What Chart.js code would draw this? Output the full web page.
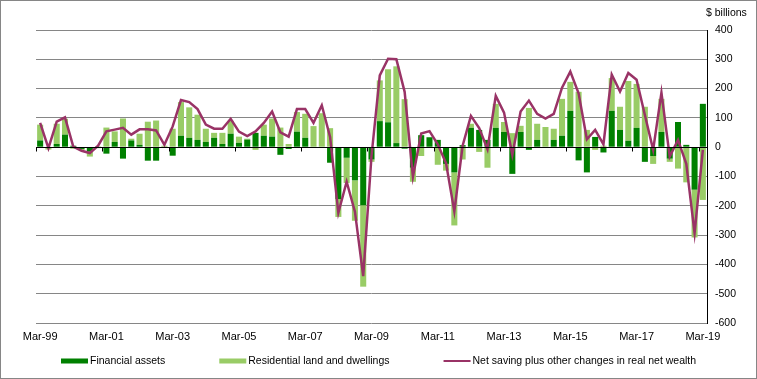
<!DOCTYPE html>
<html>
<head>
<meta charset="utf-8">
<script src="https://cdn.jsdelivr.net/npm/chart.js@4/dist/chart.umd.min.js"></script>
<style>
html,body{margin:0;padding:0;background:#fff;}
canvas{display:block;}
</style>
</head>
<body>
<canvas id="c" width="757" height="379"></canvas>
<script>
const quarters = [
 'Mar-99','Jun-99','Sep-99','Dec-99',
 'Mar-00','Jun-00','Sep-00','Dec-00',
 'Mar-01','Jun-01','Sep-01','Dec-01',
 'Mar-02','Jun-02','Sep-02','Dec-02',
 'Mar-03','Jun-03','Sep-03','Dec-03',
 'Mar-04','Jun-04','Sep-04','Dec-04',
 'Mar-05','Jun-05','Sep-05','Dec-05',
 'Mar-06','Jun-06','Sep-06','Dec-06',
 'Mar-07','Jun-07','Sep-07','Dec-07',
 'Mar-08','Jun-08','Sep-08','Dec-08',
 'Mar-09','Jun-09','Sep-09','Dec-09',
 'Mar-10','Jun-10','Sep-10','Dec-10',
 'Mar-11','Jun-11','Sep-11','Dec-11',
 'Mar-12','Jun-12','Sep-12','Dec-12',
 'Mar-13','Jun-13','Sep-13','Dec-13',
 'Mar-14','Jun-14','Sep-14','Dec-14',
 'Mar-15','Jun-15','Sep-15','Dec-15',
 'Mar-16','Jun-16','Sep-16','Dec-16',
 'Mar-17','Jun-17','Sep-17','Dec-17',
 'Mar-18','Jun-18','Sep-18','Dec-18',
 'Mar-19'
];

const financialAssets = [
 23, 0, 11, 43,
 5, -6, -15, -3,
 -22, 18, -39, 23,
 8, -46, -46, 2,
 -29, 39, 32, 25,
 18, 32, 11, 46,
 15, 26, 49, 39,
 36, -26, -6, 53,
 32, 0, 0, -53,
 -177, -36, -113, -198,
 -42, 89, 85, 14,
 -5, -70, 41, 34,
 25, -57, -86, 7,
 66, 59, 25, 66,
 52, -91, 52, -9,
 25, 0, 25, 39,
 124, -45, -86, 35,
 -18, 124, 59, 22,
 66, -50, -30, 52,
 -39, 86, 8, -145,
 148
];

const residentialLand = [
 54, -8, 69, 54,
 -5, -4, -17, 3,
 67, 36, 98, 6,
 38, 87, 91, 3,
 63, 115, 104, 86,
 45, 17, 38, 44,
 21, 3, -9, 38,
 62, 67, 11, 67,
 82, 72, 116, 65,
 -61, -86, -138, -278,
 -8, 139, 181, 262,
 164, -48, -30, 0,
 -60, -23, -181, -42,
 14, -16, -70, 82,
 34, 48, 21, 134,
 55, 69, 38, 126,
 99, 189, 59, -9,
 5, 112, 79, 204,
 150, 138, -27, 113,
 -11, -73, -120, -163,
 -180
];

const netSavingWealth = [
 83, -3, 87, 102,
 2, -12, -20, 5,
 54, 60, 66, 43,
 61, 61, 57, 8,
 71, 161, 154, 130,
 77, 63, 63, 97,
 53, 38, 54, 83,
 122, 51, 36, 130,
 130, 83, 143, 35,
 -224, -118, -220, -440,
 -30, 245, 302, 300,
 189, -101, 47, 55,
 10, -55, -219, 5,
 107, 65, -7, 175,
 118, -26, 122, 159,
 114, 98, 114, 203,
 258, 184, 27, 59,
 10, 248, 190, 253,
 230, 110, -9, 186,
 -32, 25, -57, -293,
 -9
];

const seriesNames = [
 'Financial assets',
 'Residential land and dwellings',
 'Net saving plus other changes in real net wealth'
];
const unitLabel = '$ billions';
const yMin = -600, yMax = 400, yStep = 100;

const FONT = '"Liberation Sans", Arial, sans-serif';
const DARK = '#008000', LIGHT = '#99CC66', LINE = '#993366';

const framePlugin = {
  id: 'frame',
  beforeDraw(chart) {
    const ctx = chart.ctx;
    ctx.save();
    ctx.fillStyle = '#fff';
    ctx.fillRect(0, 0, chart.width, chart.height);
    ctx.restore();
  },
  afterDraw(chart) {
    const ctx = chart.ctx;
    ctx.save();
    ctx.strokeStyle = '#868686';
    ctx.lineWidth = 1;
    ctx.strokeRect(0.5, 0.5, chart.width - 1, chart.height - 1);
    ctx.fillStyle = '#000';
    ctx.font = '10.5px ' + FONT;
    ctx.textBaseline = 'middle';
    ctx.textAlign = 'left';
    ctx.fillText(unitLabel, chart.chartArea.right - 1, 13);
    // legend
    ctx.font = '10.5px ' + FONT;
    const boxW = 27, gapText = 2, gapItems = 54;
    const items = chart.data.datasets.map(ds => ({ds, w: boxW + gapText + ctx.measureText(ds.label).width}));
    const total = items.reduce((a, b) => a + b.w, 0) + gapItems * (items.length - 1);
    let x = Math.round((chart.width - total) / 2);
    const y = chart.height - 18;
    items.forEach(it => {
      if (it.ds.type === 'line') {
        ctx.strokeStyle = it.ds.borderColor;
        ctx.lineWidth = 2;
        ctx.beginPath();
        ctx.moveTo(x, y);
        ctx.lineTo(x + boxW, y);
        ctx.stroke();
      } else {
        ctx.fillStyle = it.ds.backgroundColor;
        ctx.fillRect(x, y - 2.5, boxW, 5);
      }
      ctx.fillStyle = '#000';
      ctx.fillText(it.ds.label, x + boxW + gapText, y + 0.5);
      x += it.w + gapItems;
    });
    ctx.restore();
  }
};

const zeroAxisPlugin = {
  id: 'zeroAxis',
  afterDatasetsDraw(chart) {
    const ctx = chart.ctx;
    const xs = chart.scales.x, ys = chart.scales.y;
    const y0 = Math.round(ys.getPixelForValue(0)) + 0.5;
    const half = (xs.getPixelForValue(1) - xs.getPixelForValue(0)) / 2;
    ctx.save();
    ctx.strokeStyle = '#000';
    ctx.lineWidth = 1;
    ctx.beginPath();
    ctx.moveTo(chart.chartArea.left, y0);
    ctx.lineTo(chart.chartArea.right, y0);
    for (let k = 0; k < quarters.length; k += 8) {
      const xp = Math.round(xs.getPixelForValue(k) - half) + 0.5;
      ctx.moveTo(xp, y0);
      ctx.lineTo(xp, y0 + 4);
    }
    ctx.stroke();
    ctx.restore();
  }
};

new Chart(document.getElementById('c'), {
  type: 'bar',
  data: {
    labels: quarters,
    datasets: [
      {label: seriesNames[0], data: financialAssets, backgroundColor: DARK, stack: 'w', order: 1,
       barPercentage: 0.73, categoryPercentage: 1},
      {label: seriesNames[1], data: residentialLand, backgroundColor: LIGHT, stack: 'w', order: 2,
       barPercentage: 0.73, categoryPercentage: 1},
      {type: 'line', label: seriesNames[2], data: netSavingWealth, borderColor: LINE, backgroundColor: LINE,
       borderWidth: 2.5, pointRadius: 0, tension: 0, stack: 'line', order: 0}
    ]
  },
  options: {
    responsive: false,
    animation: false,
    devicePixelRatio: 1,
    layout: {padding: {left: 36, top: 30, right: 0, bottom: 0}},
    scales: {
      x: {
        stacked: true,
        grid: {display: false, drawTicks: false},
        border: {display: false},
        ticks: {
          autoSkip: false, maxRotation: 0, minRotation: 0, color: '#000', padding: 7,
          font: {family: FONT, size: 11},
          callback: function(v, i) { return i % 8 === 0 ? this.getLabelForValue(v) : ''; }
        },
        afterFit(s) { s.height = 56; }
      },
      y: {
        stacked: true,
        position: 'right',
        min: yMin, max: yMax,
        ticks: {stepSize: yStep, color: '#000', padding: 8, font: {family: FONT, size: 10.5}},
        grid: {color: c => (c.tick && c.tick.value === 0) ? '#000' : '#868686', drawTicks: false, lineWidth: 1},
        border: {display: true, color: '#000', width: 1},
        afterFit(s) { s.width = 50; }
      }
    },
    plugins: {legend: {display: false}, tooltip: {enabled: false}},
    events: []
  },
  plugins: [framePlugin, zeroAxisPlugin]
});
</script>
</body>
</html>
